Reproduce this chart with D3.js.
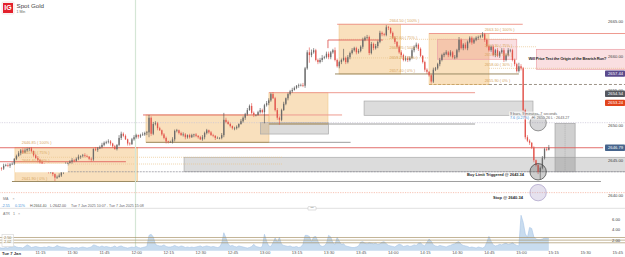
<!DOCTYPE html>
<html>
<head>
<meta charset="utf-8">
<title>Spot Gold 1 Min</title>
<script src="https://cdn.jsdelivr.net/npm/d3@7/dist/d3.min.js"></script>
<style>
  html, body { margin: 0; padding: 0; background: #fff; }
  svg { display: block; font-family: "Liberation Sans", Arial, sans-serif; }
</style>
</head>
<body>
<svg id="chart" width="625" height="257"></svg>
<script>
// One-minute candles, first bar at 10:56 (minute -4 relative to 11:00).
const firstMinute = -4;
const closes = [
  2643.9,2643.8,2644.2,2644.3,2644.2,2644.4,2644.5,2645.2,2645.6,2646.0,
  2646.4,2646.1,2646.4,2646.6,2646.7,2646.3,2645.7,2645.3,2645.0,2644.7,
  2644.4,2644.0,2643.6,2643.3,2643.3,2643.0,2642.5,2642.6,2642.8,2643.3,
  2644.1,2644.4,2644.6,2644.8,2645.0,2644.9,2645.2,2645.5,2645.6,2645.7,
  2645.6,2645.5,2645.2,2645.1,2646.6,2646.5,2646.7,2646.9,2647.2,2647.5,
  2647.6,2647.7,2647.4,2647.0,2646.6,2647.2,2648.2,2648.8,2648.5,2648.0,
  2647.4,2647.3,2648.0,2648.3,2648.6,2648.4,2648.6,2648.7,2648.9,2649.0,
  2651.1,2648.8,2650.2,2650.3,2649.6,2649.3,2648.7,2648.2,2647.7,2647.6,
  2647.6,2648.0,2649.2,2649.3,2648.9,2648.6,2648.7,2648.3,2648.6,2648.3,
  2648.6,2648.7,2648.5,2648.3,2648.0,2648.3,2648.9,2649.3,2649.0,2648.6,
  2648.5,2648.2,2648.2,2648.2,2648.6,2650.8,2650.5,2650.2,2649.9,2649.6,
  2649.6,2649.8,2650.2,2650.6,2651.1,2651.6,2652.2,2652.8,2651.8,2651.5,
  2651.5,2651.9,2652.2,2651.9,2652.9,2653.2,2653.6,2654.5,2653.9,2652.2,
  2651.1,2650.8,2652.2,2653.1,2653.9,2654.5,2654.9,2655.1,2655.4,2655.7,
  2655.8,2655.8,2655.7,2658.2,2660.5,2660.1,2660.5,2660.8,2659.4,2659.1,
  2659.4,2659.7,2659.8,2660.3,2659.8,2660.5,2660.8,2659.4,2658.5,2659.1,
  2659.4,2659.7,2659.1,2659.8,2660.4,2660.8,2661.1,2660.5,2660.7,2661.3,
  2662.3,2662.6,2662.7,2660.4,2661.7,2661.1,2661.4,2662.0,2663.3,2663.1,
  2663.0,2664.1,2664.0,2663.3,2662.6,2662.0,2661.3,2660.5,2660.1,2659.4,
  2659.7,2659.4,2659.7,2660.8,2661.3,2661.6,2661.0,2660.0,2659.1,2658.0,
  2657.7,2657.2,2656.3,2658.0,2658.2,2658.8,2659.4,2660.1,2660.3,2660.5,
  2660.1,2660.5,2659.8,2659.8,2660.8,2662.3,2661.1,2661.6,2661.1,2662.0,
  2662.6,2661.9,2662.3,2662.6,2662.7,2662.8,2663.1,2662.3,2661.4,2660.8,
  2661.3,2660.1,2660.8,2660.0,2660.5,2660.8,2659.4,2660.1,2660.8,2660.8,
  2659.4,2658.8,2657.8,2658.5,2658.2,2652.2,2648.3,2647.8,2647.5,2646.8,
  2645.0,2644.3,2643.3,2643.9,2645.3,2646.6,2646.5,2646.79
];
const upperWicks = [
  .2,.1,.3,.2,.3,.2,.2,.1,.2,.3, .2,.3,.3,.2,.1,.2,.1,.2,.3,.2,
  .3,.2,.2,.1,.3,.2,.1,.2,.3,.2, .2,.3,.1,.2,.3,.2,.2,.3,.1,.2,
  .3,.2,.1,.2,.1,.3,.2,.2,.3,.2, .2,.3,.2,.1,.2,.1,.4,.3,.2,.2,
  .1,.2,.2,.3,.2,.1,.2,.3,.2,.2, .4,.2,.3,.3,.2,.2,.1,.2,.2,.1,
  .2,.3,.2,.2,.1,.2,.3,.2,.1,.2, .2,.1,.2,.1,.2,.3,.2,.2,.1,.2,
  .2,.1,.2,.1,.3,1.0,.3,.2,.2,.1, .2,.2,.1,.3,.2,.2,.3,.2,.4,.2,
  .1,.2,.3,.2,.2,.3,.3,.2,.3,.2, .3,.2,.2,.3,.1,.2,.2,.3,.2,.1,
  .2,.2,.3,.2,.3,.7,.4,.3,.2,.2, .3,.4,.2,.3,.3,.2,.2,.4,.2,.2,
  .2,1.3,.2,.3,.2,.3,.2,.2,.3,.2, .3,.2,.3,.2,.3,.2,.3,.2,.3,.2,
  .2,.3,.2,.1,.2,.2,.1,.2,.3,.2, .3,.2,.2,.3,.2,.3,.2,.2,.1,.2,
  .2,.1,.2,.3,.2,.2,.3,.2,.2,.3, .2,.3,.2,.3,.2,.4,.2,.2,.3,.2,
  .2,.2,.3,.2,.2,.2,.3,.2,.2,.1, .2,.3,.2,.3,.2,.3,.3,.2,.3,.2,
  .2,.2,.2,.5,.3,.2,.2,.3,.2,.1, .2,.1,.2,.2,.3,.2,.3,.4
];
const lowerWicks = [
  .2,.3,.2,.1,.2,.3,.1,.2,.2,.1, .3,.2,.1,.2,.3,.2,.2,.1,.2,.3,
  .2,.1,.3,.2,.2,.3,.5,.2,.1,.2, .3,.2,.2,.1,.3,.2,.1,.2,.3,.2,
  .2,.1,.2,.3,.2,.2,.3,.1,.2,.2, .2,.2,.3,.2,.1,.2,.2,.3,.2,.1,
  .3,.2,.1,.2,.2,.3,.2,.1,.2,.3, .7,.3,.2,.2,.3,.1,.2,.2,.3,.2,
  .1,.2,.3,.2,.2,.1,.2,.3,.2,.2, .1,.3,.2,.2,.1,.2,.3,.2,.2,.1,
  .2,.3,.1,.2,.2,.3,.2,.1,.2,.2, .3,.2,.2,.1,.2,.3,.2,.1,.2,.3,
  .2,.1,.2,.2,1.6,.2,.3,.2,.1,.2, .3,.7,.2,.1,.2,.3,.2,.2,.1,.2,
  .3,.2,.2,.3,.2,1.1,.3,.2,.2,.3, .2,.3,.2,.2,.3,.3,.2,.2,.2,.3,
  .3,.2,.3,.2,.3,.2,.2,.3,.2,.2, .3,.2,.2,.3,.2,.3,.2,.3,.2,.3,
  .2,.2,.3,.2,.2,.3,.2,.2,.3,.2, .2,.3,.2,.2,.3,.2,.3,.2,.2,.3,
  .3,.2,.3,.2,.2,.2,.3,.2,.3,.2, .3,.2,.2,.3,.2,.3,.2,.3,.2,.3,
  .2,.3,.2,.2,.3,.2,.2,.3,.2,.2, .3,.2,.3,.2,.3,.2,.3,.2,.2,.3,
  .2,.3,.2,.2,.3,.2,.3,.2,.3,.2, .3,.2,.3,1.0,.2,.2,.2,.1
];
const atrValues = [
  .6,.5,.5,.6,.5,.7,.6,.9,.7,.6, .6,.5,.8,1.1,.9,.6,.7,.8,.7,.6,
  .6,.7,.6,.8,.7,.6,.7,1.0,.8,.7, .7,.6,.5,.5,.6,.5,.6,.5,.6,.7,
  .6,.5,.6,.7,1.1,1.0,.8,.7,.9,.7, .8,.7,.6,.7,.9,.6,.8,.9,.7,.6,
  .5,.6,.7,.6,.8,.6,.5,.6,.7,.8, 2.9,3.1,2.6,1.2,1.0,.9,.9,1.1,.8,.7,
  .7,.8,1.0,.8,.7,.9,.8,.6,.7,.6, .7,.6,.7,.8,.9,.7,.8,.9,.8,.7,
  .8,.7,.6,.7,1.4,3.4,2.4,1.3,.9,1.0, .8,.7,.9,.8,.7,.6,.5,.6,.8,1.2,
  .8,.7,.6,.8,3.1,1.8,.9,.8,1.5,2.4, 1.6,2.5,1.2,1.0,.9,.8,.9,.7,.7,.8,
  .6,.7,1.2,2.9,2.9,2.7,1.7,2.6,2.7,1.8, 1.0,.8,.9,1.4,2.9,2.6,1.5,1.2,2.5,1.8,
  1.2,1.3,.9,.8,.7,.6,.6,.7,.9,1.6, 1.7,1.4,1.3,1.5,1.4,1.3,1.4,1.2,1.3,1.6,
  1.7,1.3,1.0,.9,.8,.7,1.0,1.2,1.1,.8, .9,1.0,.8,.9,1.1,1.0,1.4,1.5,1.1,.9,
  1.6,2.2,1.8,1.1,.9,.8,1.0,.9,.8,.7, .9,1.0,1.2,1.3,1.6,1.7,1.2,1.0,.9,.8,
  .6,.7,.6,.5,.7,.6,.5,.7,1.6,2.7, 1.8,1.1,.9,1.0,1.2,1.1,1.3,1.4,1.2,1.3,
  1.5,1.2,1.0,.9,6.7,5.4,3.2,2.5,4.4,4.2, 2.6,2.2,2.1,2.1,2.2,2.4,2.4,2.3
];

const priceTicks = [2665, 2660, 2655, 2650, 2645, 2640];
const atrTicks = [2, 4, 6];
const atrBands = [1.5, 2.0, 2.5];
const timeTicks = [15,30,45,60,75,90,105,120,135,150,165,180,195,210,225,240,255,270,285];

// Shaded setups: [from minute, to minute, upper price, lower price]
const fibZones = [
  [3.3, 60.7, 2646.85, 2641.94],
  [64.6, 122.1, 2651.5, 2647.57],
  [122.1, 149.7, 2654.7, 2650.2],
  [154.9, 183.7, 2664.53, 2657.39],
  [197, 225, 2663.2, 2655.88]
];
const greyZones = [
  [118.2, 150, 2650.39, 2648.76],
  [166.6, 245.6, 2653.5, 2651.45],
  [82.4, 290, 2645.42, 2643.34]
];
const pinkZones = [
  [201, 238, 2662.37, 2659.5],
  [247.3, 290, 2660.93, 2658.06]
];
const measureBox = [255.9, 265.3, 2650.3, 2643.34];

// Horizontal levels: [price, from minute, to minute]
const redLevels = [
  [2662.27, 149.7, 175.4],
  [2651.5, 63.2, 122.1],
  [2644.78, -4, 55.2],
  [2646.79, -4, 278.4]
];
const softRedLevels = [
  [2664.53, 154, 240.8],
  [2654.7, 122.1, 218.5],
  [2651.5, 122.1, 156.3],
  [2663.2, 197, 290]
];
const tanLevels = [
  [2657.39, 153, 239],
  [2650.2, 122.1, 149.7],
  [2647.57, 64.6, 122.1],
  [2641.94, 1.9, 60.7]
];
const greyLevels = [
  [2650.2, 149.7, 218.5],
  [2647.57, 122.1, 160.3],
  [2641.94, 60.7, 277.4]
];
const goldDotted = [
  [2645.42, 3.3, 128.2],
  [2644.45, 3.3, 128.2],
  [2662.37, 154.9, 238],
  [2659.7, 154.9, 197],
  [2661.3, 225, 247.3],
  [2658.2, 225, 290]
];
const lavenderDotted = [[2650.39, -4, 290]];
const stopDotted = [[2640.34, -4, 290]];
const limitDashed = [[2643.34, 28, 290]];
const zoneBaseDashed = [[2655.88, 197, 225]];
const zoneBaseGrey = [[2655.88, 225, 290]];

// Fibonacci captions: [text, minute, price]
const fibCaptions = [
  ["2646.85 ( 100% )", 6.5, 2647.3],
  ["2645.60 ( 75% )", 6.5, 2645.9],
  ["2644.40 ( 50% )", 6.5, 2644.7],
  ["2641.90 ( 0% )", 6.5, 2642.2],
  ["2664.50 ( 100% )", 178.5, 2664.8],
  ["2662.60 ( 75% )", 178.5, 2662.4],
  ["2660.95 ( 50% )", 178.5, 2661.0],
  ["2659.20 ( 25% )", 178.5, 2659.6],
  ["2657.40 ( 0% )", 178.5, 2657.7],
  ["2663.10 ( 100% )", 223, 2663.5],
  ["2661.30 ( 75% )", 223, 2661.3],
  ["2659.50 ( 50% )", 223, 2659.9],
  ["2658.00 ( 30% )", 223, 2658.5],
  ["2655.90 ( 0% )", 223, 2656.2]
];

// Price tags at the right edge
const tagValues = [2657.44, 2654.54, 2653.24, 2646.79];
const tagColors = ["#5a4a8c", "#55585f", "#e2441c", "#46648c"];

// Rings around the key prices
const ringPrices = [2650.39, 2643.34, 2640.34];
const ringMinute = 248;

const width = 625, height = 257;
const svg = d3.select("#chart");

const x = d3.scaleLinear().domain([0, 285]).range([7.9, 7.9 + 2.138 * 285]);
const y = d3.scaleLinear().domain([2665, 2640]).range([21, 195]);
const yAtr = d3.scaleLinear().domain([0, 6]).range([250.7, 219]);

const font = 4.2;

// Zones sit beneath the candles
const rectOf = sel => sel
  .attr("x", d => x(d[0]))
  .attr("width", d => x(d[1]) - x(d[0]))
  .attr("y", d => y(d[2]))
  .attr("height", d => y(d[3]) - y(d[2]));

const levels = (rows, color, w, dash) => svg.append("g").selectAll("line").data(rows).join("line")
  .attr("x1", d => x(d[1])).attr("x2", d => x(d[2]))
  .attr("y1", d => y(d[0])).attr("y2", d => y(d[0]))
  .attr("stroke", color).attr("stroke-width", w)
  .attr("stroke-dasharray", dash || null);

svg.append("g").selectAll("rect").data(fibZones).join("rect").call(rectOf)
  .attr("fill", "#f1b25a").attr("fill-opacity", 0.4)
  .attr("stroke", "#f3cd95").attr("stroke-width", 0.7);

svg.append("g").selectAll("rect").data(greyZones).join("rect").call(rectOf)
  .attr("fill", "#9a9a9a").attr("fill-opacity", 0.35)
  .attr("stroke", "#a9a9a9").attr("stroke-width", 0.7);

svg.append("g").selectAll("rect").data(pinkZones).join("rect").call(rectOf)
  .attr("fill", "#e8606a").attr("fill-opacity", 0.2)
  .attr("stroke", "#eca0a6").attr("stroke-width", 0.7);

svg.append("rect").datum(measureBox).call(rectOf)
  .attr("fill", "#8f8f8f").attr("fill-opacity", 0.42)
  .attr("stroke", "#a3a3a3").attr("stroke-width", 0.7);
svg.append("line")
  .attr("x1", x((measureBox[0] + measureBox[1]) / 2)).attr("x2", x((measureBox[0] + measureBox[1]) / 2))
  .attr("y1", y(measureBox[2])).attr("y2", y(measureBox[3]))
  .attr("stroke", "#9a9a9a").attr("stroke-width", 0.5).attr("stroke-dasharray", "1 1");

levels(lavenderDotted, "#c9c3d6", 0.7, "1.2 1.2");
levels(stopDotted, "#f3a994", 0.7, "1.2 1.2");
levels(limitDashed, "#8b8b95", 0.7, "2 1");
levels(goldDotted, "#e9c48c", 0.7, "1 1");
levels(zoneBaseDashed, "#c9a468", 1, "3 1.5");
levels(zoneBaseGrey, "#9d9488", 1, "3 2");
levels(softRedLevels, "#ee9a90", 1);
levels(redLevels, "#e0605c", 0.9);
levels(tanLevels, "#9b8a63", 1);
levels(greyLevels, "#9e9e9e", 1);

svg.append("line")
  .attr("x1", x(149.7)).attr("x2", x(149.7))
  .attr("y1", y(2662.27)).attr("y2", y(2661.1))
  .attr("stroke", "#e0605c").attr("stroke-width", 0.9);

// Session divider
svg.append("line")
  .attr("x1", 135.5).attr("x2", 135.5).attr("y1", 0).attr("y2", 251)
  .attr("stroke", "#d5e6d6").attr("stroke-width", 1.2);

// Candles: each bar opens where the previous one closed
const candles = closes.map((c, i) => {
  const o = i ? closes[i - 1] : c + 0.2;
  return {
    minute: firstMinute + i, open: o, close: c,
    high: Math.max(o, c) + upperWicks[i],
    low: Math.min(o, c) - lowerWicks[i]
  };
});
const candleG = svg.append("g").selectAll("g").data(candles).join("g")
  .attr("stroke", d => d.close >= d.open ? "#4e4e4e" : "#e2544c")
  .attr("fill", d => d.close >= d.open ? "#6b6b6b" : "#e2544c");
candleG.append("line")
  .attr("x1", d => x(d.minute)).attr("x2", d => x(d.minute))
  .attr("y1", d => y(d.high)).attr("y2", d => y(d.low))
  .attr("stroke-width", 0.6);
candleG.append("rect")
  .attr("x", d => x(d.minute) - 0.65).attr("width", 1.3)
  .attr("y", d => y(Math.max(d.open, d.close)))
  .attr("height", d => Math.max(0.5, Math.abs(y(d.open) - y(d.close))))
  .attr("stroke", "none");

// Blank panel over the first setup
svg.append("rect").attr("x", x(3.3)).attr("width", x(28) - x(3.3))
  .attr("y", y(2644.5)).attr("height", 8.6).attr("fill", "#fff");

// Fibonacci captions
svg.append("g").selectAll("text").data(fibCaptions).join("text")
  .attr("x", d => x(d[1])).attr("y", d => y(d[2]))
  .attr("font-size", 3.9).attr("fill", "#d8a75f")
  .text(d => d[0]);

// Rings
const ringStyles = [
  { fill: "#77777f", stroke: "#6f6f6f" },
  { fill: "#5c5c5c", stroke: "#3a3a3a" },
  { fill: "#a89cc6", stroke: "#a89cc6" }
];
svg.append("g").selectAll("circle").data(ringPrices).join("circle")
  .attr("cx", x(ringMinute)).attr("cy", d => y(d)).attr("r", 8.2)
  .attr("fill", (d, i) => ringStyles[i].fill).attr("fill-opacity", 0.3)
  .attr("stroke", (d, i) => ringStyles[i].stroke).attr("stroke-width", 0.7);

// Annotations
const note = (txt, left, cy, len) => svg.append("text")
  .attr("x", left).attr("y", cy).attr("dy", "0.35em")
  .attr("font-size", 4).attr("font-weight", "bold").attr("fill", "#2a2a2a")
  .attr("textLength", len).attr("lengthAdjust", "spacing").text(txt);
note("Will Price Test the Origin of the Bearish Run?", 528.5, 58.7, 78);
note("Buy Limit Triggered @ 2643.34", 467, 174.7, 57);
note("Stop @ 2640.34", 493, 197.3, 30);

// Measure readout
svg.append("rect").attr("x", 509).attr("y", 111.5).attr("width", 54).attr("height", 8)
  .attr("fill", "#fff").attr("fill-opacity", 0.65);
svg.append("text").attr("x", 510).attr("y", 115).attr("font-size", 3.7).attr("fill", "#666")
  .text("9 bars, 9 minutes, 7 seconds");
svg.append("text").attr("x", 510).attr("y", 119).attr("font-size", 3.7).attr("fill", "#3f8fd6")
  .text("7.6 (0.27%)");
svg.append("text").attr("x", 532).attr("y", 119).attr("font-size", 3.7).attr("fill", "#666")
  .text("H: 2650.26 L : 2643.27");

// Price axis
const priceAxis = d3.axisRight(y).tickValues(priceTicks).tickSize(0).tickPadding(0)
  .tickFormat(d3.format(".2f"));
const priceG = svg.append("g").attr("transform", "translate(608,0)").call(priceAxis);
priceG.select(".domain").remove();
priceG.selectAll("text").attr("font-size", font).attr("font-family", null).attr("fill", "#444");

// Current price tags
const tagG = svg.append("g").selectAll("g").data(tagValues).join("g")
  .attr("transform", d => `translate(605,${y(d)})`);
tagG.append("rect").attr("y", -3.2).attr("width", 20).attr("height", 6.4).attr("rx", 0.8)
  .attr("fill", (d, i) => tagColors[i]);
tagG.append("text").attr("x", 3).attr("dy", "0.35em").attr("font-size", font)
  .attr("fill", "#fff").text(d => d3.format(".2f")(d));

// Pane separator with its grip
svg.append("line").attr("x1", 0).attr("x2", width).attr("y1", 208.3).attr("y2", 208.3)
  .attr("stroke", "#dcdcdc").attr("stroke-width", 0.9);
svg.append("rect").attr("x", 308).attr("y", 206.6).attr("width", 8).attr("height", 3.4).attr("rx", 0.5)
  .attr("fill", "#fff").attr("stroke", "#bcbcbc").attr("stroke-width", 0.5);
svg.append("text").attr("x", 312).attr("y", 208.3).attr("dy", "0.32em").attr("text-anchor", "middle")
  .attr("font-size", 3).attr("fill", "#888").text("•••");

// ATR pane
const area = d3.area().x((d, i) => x(firstMinute + i)).y0(yAtr(0)).y1(d => yAtr(d)).curve(d3.curveLinear);
const line = d3.line().x((d, i) => x(firstMinute + i)).y(d => yAtr(d));
svg.append("path").datum(atrValues).attr("d", area).attr("fill", "#c8dcef");
svg.append("path").datum(atrValues).attr("d", line).attr("fill", "none")
  .attr("stroke", "#a7c5e6").attr("stroke-width", 0.6);
svg.append("g").selectAll("line").data(atrBands).join("line")
  .attr("x1", 0).attr("x2", width).attr("y1", d => yAtr(d)).attr("y2", d => yAtr(d))
  .attr("stroke", "#a58f63").attr("stroke-opacity", 0.75).attr("stroke-width", 0.9);

const atrAxis = d3.axisRight(yAtr).tickValues(atrTicks).tickSize(0).tickPadding(0)
  .tickFormat(d3.format(".2f"));
const atrG = svg.append("g").attr("transform", "translate(612,0)").call(atrAxis);
atrG.select(".domain").remove();
atrG.selectAll("text").attr("font-size", font).attr("font-family", null).attr("fill", "#444");

svg.append("rect").attr("x", 2).attr("y", 234.5).attr("width", 11.5).attr("height", 12)
  .attr("fill", "#fff").attr("fill-opacity", 0.7).attr("stroke", "#d4d4d4").attr("stroke-width", 0.6);
svg.append("text").attr("x", 7.7).attr("y", 239).attr("text-anchor", "middle")
  .attr("font-size", 3.8).attr("fill", "#8a7a55").text("2.50");
svg.append("text").attr("x", 7.7).attr("y", 243).attr("text-anchor", "middle")
  .attr("font-size", 3.8).attr("fill", "#8a7a55").text("2.02");

// Time axis
const label = m => `${String(11 + Math.floor(m / 60))}:${String(m % 60).padStart(2, "0")}`;
const timeAxis = d3.axisBottom(x).tickValues(timeTicks).tickSize(0).tickPadding(0).tickFormat(label);
const timeG = svg.append("g").attr("transform", "translate(0,251)").call(timeAxis);
timeG.select(".domain").remove();
timeG.selectAll("text").attr("font-size", font).attr("font-family", null).attr("fill", "#555");
svg.append("text").attr("x", 2).attr("y", 255).attr("font-size", font).attr("font-weight", "bold")
  .attr("fill", "#333").text("Tue 7 Jan");

// Header
svg.append("rect").attr("x", 2).attr("y", 2).attr("width", 12).attr("height", 12).attr("rx", 1)
  .attr("fill", "#fff").attr("stroke", "#e8c8c8").attr("stroke-width", 0.5);
svg.append("rect").attr("x", 3).attr("y", 3).attr("width", 10).attr("height", 10).attr("fill", "#e3202c");
svg.append("text").attr("x", 8).attr("y", 10.4).attr("text-anchor", "middle").attr("font-size", 7)
  .attr("font-weight", "bold").attr("fill", "#fff").text("IG");
svg.append("text").attr("x", 16.5).attr("y", 7.8).attr("font-size", 6.2).attr("fill", "#444").text("Spot Gold");
svg.append("text").attr("x", 16.5).attr("y", 12.8).attr("font-size", 3.6).attr("fill", "#666").text("1 Min");

// Study rows
const row = (txt, left, base, color) => svg.append("text").attr("x", left).attr("y", base)
  .attr("font-size", 3.6).attr("fill", color).text(txt);
row("MA", 3, 199.5, "#777");
row("×", 12.5, 199.5, "#999");
row("-2.55", 1.5, 206.6, "#3f8fd6");
row("0.11%", 15, 206.6, "#3f8fd6");
row("H:2664.40", 30, 206.6, "#555");
row("L:2642.00", 50, 206.6, "#555");
row("Tue 7 Jan 2025 10:07 - Tue 7 Jan 2025 15:08", 71, 206.6, "#666");
row("ATR", 3, 215, "#777");
row("1", 13, 215, "#777");
row("×", 18, 215, "#999");
</script>
</body>
</html>
